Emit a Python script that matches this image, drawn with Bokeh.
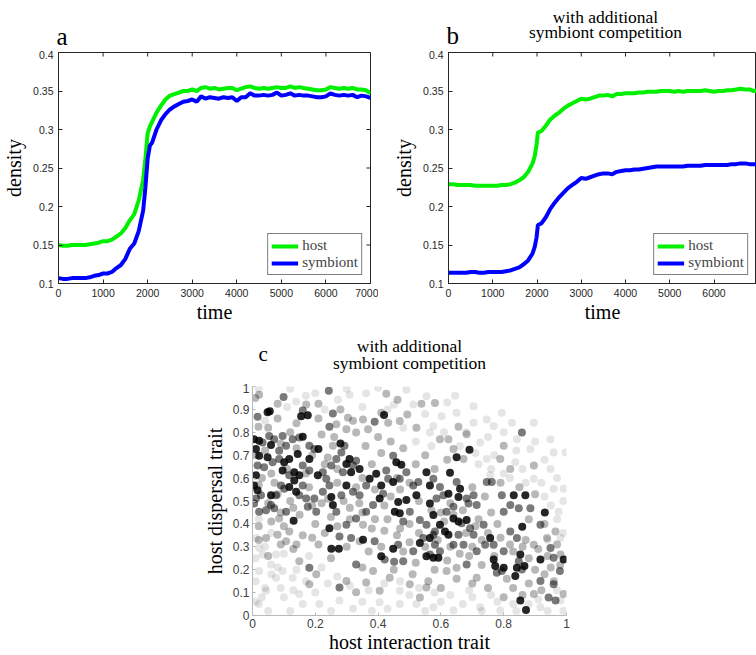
import math
from bokeh.plotting import figure
from bokeh.models import Legend, LegendItem, FixedTicker, Range1d
from bokeh.core.properties import value
from bokeh.layouts import column, row
from bokeh.embed import file_html
from bokeh.resources import INLINE

SERIF = "Liberation Serif"
SANS = "Liberation Sans"
GREEN = "#00f000"
BLUE = "#0000ff"

# ---------------- panel a data ----------------
time_a = [*range(0, 1901, 100), 1950, 2000, 2050, *range(2100, 7001, 100)]
host_a = [.150, .149, .149, .150, .150, .150, .150, .151, .152, .153,
          .155, .155, .157, .161, .165, .172, .182, .190, .208, .235,
          .262, .295, .304,
          .310, .322, .331, .339, .344, .346, .348, .350, .350,
          .352, .350, .354, .355, .353, .354, .352, .353, .354, .354,
          .351, .353, .355, .356, .354, .353, .354, .353, .354, .355,
          .354, .354, .356, .354, .355, .354, .353, .352, .351, .351,
          .352, .355, .354, .353, .354, .353, .354, .352, .352, .351, .347]
symb_a = [.107, .106, .106, .107, .107, .107, .107, .108, .110, .111,
          .113, .113, .115, .120, .124, .132, .145, .152, .168, .195,
          .225, .262, .279,
          .283, .300, .312, .320, .326, .330, .333, .336, .337,
          .339, .336, .343, .340, .342, .341, .340, .342, .341, .342,
          .337, .342, .342, .347, .344, .344, .345, .344, .345, .348,
          .344, .345, .347, .344, .345, .344, .344, .343, .342, .342,
          .343, .347, .345, .344, .345, .344, .345, .342, .344, .343, .341]

# ---------------- panel b data ----------------
time_b = [*range(0, 1901, 100), 1950, 1990, 2020, *range(2100, 7001, 100)]
host_b = [.229, .229, .228, .228, .228, .228, .227, .227, .227, .227,
          .227, .227, .228, .228, .229, .231, .234, .238, .245, .256,
          .266, .280, .296,
          .298, .305, .313, .318, .322, .327, .331, .334, .337,
          .340, .339, .340, .342, .344, .344, .345, .343, .346, .346,
          .347, .347, .347, .348, .348, .349, .349, .349, .350, .350,
          .350, .349, .350, .349, .350, .350, .350, .350, .351, .350,
          .349, .350, .350, .351, .351, .352, .353, .352, .352, .350, .351]
symb_b = [.114, .114, .114, .114, .114, .115, .115, .114, .114, .115,
          .115, .115, .115, .116, .117, .119, .121, .125, .130, .139,
          .148, .160, .176,
          .178, .186, .197, .205, .212, .218, .224, .228, .232,
          .237, .236, .238, .240, .242, .243, .243, .242, .245, .246,
          .247, .247, .248, .248, .249, .250, .251, .252, .252, .252,
          .252, .252, .252, .252, .253, .253, .253, .253, .254, .254,
          .254, .254, .254, .254, .255, .255, .256, .256, .255, .255, .254]

time_ticks = [0, 1000, 2000, 3000, 4000, 5000, 6000, 7000]
time_labels = ["0", "1000", "2000", "3000", "4000", "5000", "6000", "7000"]
dens_ticks = [0.1, 0.15, 0.2, 0.25, 0.3, 0.35, 0.4]
dens_labels = ["0.1", "0.15", "0.2", "0.25", "0.3", "0.35", "0.4"]

# ---------------- panel c data (host traits, by darkness) ----------------
dark_pts = [(.419, .876), (.176, .875), (.155, .870), (.055, .892), (.048, .888),
            (.005, .770), (.021, .763), (.011, .727), (.059, .744), (.160, .781), (.210, .727),
            (.181, .683), (.144, .705), (.117, .683), (.101, .669), (.048, .691), (.021, .698),
            (.096, .633), (.133, .626), (.149, .612), (.133, .590), (.208, .612), (.280, .751),
            (.309, .683), (.299, .662), (.341, .640), (.314, .626), (.011, .612), (.005, .568),
            (.016, .547), (.059, .525), (.117, .561), (.139, .540), (.131, .414), (.251, .518),
            (.256, .482), (.245, .381), (.299, .568), (.373, .597), (.394, .619), (.410, .568),
            (.405, .511), (.251, .291), (.275, .291), (.352, .331), (.410, .259), (.448, .292),
            (.533, .317), (.458, .669), (.474, .658), (.448, .583), (.554, .626), (.565, .568),
            (.522, .525), (.490, .504), (.464, .496), (.453, .453), (.469, .446), (.576, .439),
            (.565, .489), (.629, .623), (.650, .691), (.691, .724), (.661, .554), (.624, .532),
            (.656, .518), (.597, .396), (.613, .367), (.624, .353), (.565, .338), (.554, .259),
            (.576, .252), (.592, .252), (.640, .424), (.656, .410), (.682, .417), (.757, .338),
            (.832, .525), (.869, .525), (.859, .388), (.768, .245), (.773, .216), (.800, .209),
            (.837, .173), (.853, .266), (.866, .216), (.842, .209), (.853, .065), (.871, .024),
            (.931, .450), (.991, .245), (.917, .245)]
mid_pts = [(.099, .954), (.016, .868), (.243, .981), (.389, .846), (.256, .882), (.160, .895),
           (.245, .824), (.858, .799), (.032, .755), (.053, .784), (.069, .770), (.096, .784),
           (.085, .719), (.107, .741), (.128, .770), (.149, .777), (.181, .741), (.197, .727),
           (.085, .683), (.016, .655), (.037, .647), (.064, .669), (.117, .612), (.160, .655),
           (.181, .633), (.224, .626), (.235, .597), (.251, .655), (.267, .683), (.283, .712),
           (.293, .741), (.320, .655), (.330, .676), (.288, .626), (.027, .525), (.011, .511),
           (.005, .489), (.021, .453), (.043, .460), (.059, .482), (.069, .468), (.075, .525),
           (.091, .568), (.101, .554), (.149, .525), (.160, .568), (.171, .511), (.176, .475),
           (.107, .453), (.203, .453), (.197, .511), (.224, .540), (.245, .568), (.267, .453),
           (.283, .525), (.320, .540), (.341, .525), (.362, .568), (.416, .532), (.432, .597),
           (.384, .482), (.362, .453), (.330, .424), (.299, .396), (.277, .345), (.314, .338),
           (.181, .209), (.277, .122), (.330, .223), (.389, .324), (.421, .245), (.464, .309),
           (.451, .235), (.480, .237), (.512, .281), (.544, .338), (.576, .353), (.565, .266),
           (.448, .698), (.490, .626), (.469, .597), (.426, .633), (.512, .568), (.528, .583),
           (.576, .597), (.597, .561), (.480, .410), (.501, .453), (.533, .417), (.554, .396),
           (.586, .511), (.608, .525), (.650, .583), (.682, .511), (.704, .525), (.688, .489),
           (.714, .482), (.640, .475), (.618, .453), (.581, .367), (.581, .309), (.597, .281),
           (.666, .403), (.693, .381), (.656, .353), (.640, .309), (.672, .309), (.682, .223),
           (.714, .281), (.704, .353), (.736, .396), (.741, .309), (.768, .309), (.746, .583),
           (.794, .525), (.800, .453), (.821, .482), (.848, .468), (.885, .468), (.842, .338),
           (.821, .367), (.800, .281), (.778, .187), (.794, .194), (.848, .237), (.858, .201),
           (.917, .151), (.917, .396), (.949, .295), (.959, .252), (.979, .194), (.959, .137),
           (.965, .065), (.943, .079), (.762, .583)]
light_pts = [(.009, .950), (.021, .964), (.019, .824), (.080, .925), (.210, .925), (.171, .921),
             (.426, .968), (.462, .942), (.493, .878), (.538, .925), (.581, .928), (.410, .885),
             (.352, .856), (.304, .863), (.267, .835), (.299, .813), (.330, .799), (.368, .813),
             (.432, .842), (.469, .849), (.522, .820), (.656, .824), (.682, .791), (.800, .741),
             (.256, .741), (.085, .424), (.352, .396), (.341, .324), (.203, .180), (.149, .237),
             (.107, .324), (.117, .367), (.080, .353), (.043, .338), (.181, .137), (.299, .151),
             (.330, .101), (.362, .144), (.384, .194), (.672, .683), (.640, .727), (.624, .770),
             (.618, .194), (.650, .209), (.714, .165), (.896, .094), (.938, .338), (.965, .367),
             (.981, .266), (.991, .094), (.896, .309), (.896, .655), (.821, .640), (.789, .683),
             (.437, .165), (.501, .137), (.554, .122), (.533, .079), (.405, .108), (.597, .770),
             (.03, .60), (.07, .58), (.12, .50), (.18, .56), (.22, .49), (.27, .58), (.31, .47),
             (.35, .60), (.38, .66), (.41, .71), (.36, .74), (.22, .79), (.26, .78), (.12, .80),
             (.05, .82), (.33, .56), (.44, .52), (.47, .55), (.50, .40), (.53, .36), (.47, .38),
             (.43, .42), (.38, .38), (.25, .43), (.20, .40), (.15, .44), (.10, .39), (.06, .41),
             (.02, .39), (.30, .30), (.37, .28), (.41, .30), (.48, .28), (.52, .23), (.58, .20),
             (.62, .24), (.66, .27), (.70, .30), (.73, .33), (.68, .36), (.72, .42), (.76, .45),
             (.78, .40), (.82, .31), (.86, .30), (.88, .25), (.90, .20), (.93, .18), (.95, .21),
             (.88, .14), (.83, .12), (.80, .08), (.75, .12), (.70, .14), (.65, .16), (.60, .12),
             (.56, .15), (.51, .18), (.45, .20), (.35, .21), (.25, .25), (.21, .31), (.16, .35),
             (.13, .29), (.60, .45), (.63, .49), (.70, .56), (.74, .52), (.79, .58), (.85, .56),
             (.90, .53), (.93, .40), (.97, .31), (.88, .42), (.55, .70), (.52, .66), (.58, .64),
             (.62, .68), (.48, .73), (.44, .76), (.40, .78), (.32, .85), (.28, .90), (.21, .86),
             (.14, .84), (.08, .86),
             (.01, .70), (.04, .72), (.09, .75), (.14, .73), (.19, .70), (.24, .69), (.27, .64),
             (.23, .66), (.17, .62), (.11, .64), (.06, .62), (.02, .57), (.08, .53), (.13, .47),
             (.19, .48), (.24, .51), (.29, .50), (.34, .49), (.39, .55), (.42, .48), (.46, .60),
             (.50, .58), (.53, .50), (.57, .46), (.61, .41), (.64, .44), (.67, .46), (.71, .39),
             (.75, .36), (.79, .34), (.83, .28), (.87, .33), (.91, .29), (.94, .26), (.98, .22),
             (.96, .15), (.92, .11), (.86, .09), (.81, .16), (.77, .26), (.73, .22), (.69, .26),
             (.63, .30), (.59, .33), (.55, .30), (.50, .32), (.46, .35), (.42, .37), (.39, .42),
             (.35, .45), (.31, .42), (.27, .39), (.23, .36), (.19, .34), (.14, .31), (.09, .31),
             (.05, .26), (.02, .33), (.05, .49), (.09, .45)]
faint_pts = [(.139, .935), (.272, .942), (.309, .964), (.362, .971), (.512, .921), (.645, .960),
             (.602, .870), (.565, .799), (.725, .755), (.794, .885), (.826, .842), (.959, .712),
             (.997, .712), (.746, .683), (.837, .669), (.021, .295), (.059, .223), (.043, .108),
             (.075, .165), (.149, .094), (.975, .453), (.959, .554), (.896, .597), (.949, .640),
             (.885, .727), (.757, .612), (.011, .338), (.032, .266), (.021, .194), (.075, .266),
             (.096, .194), (.128, .165), (.160, .050), (.213, .050), (.277, .065), (.405, .058),
             (.469, .050), (.522, .050), (.576, .036), (.640, .022), (.725, .036), (.789, .022),
             (.917, .036), (.981, .065), (.469, .108), (.896, .842), (.949, .770), (.842, .770),
             (.768, .827), (.704, .914), (.650, .885), (.554, .957), (.490, .986), (.704, .842),
             (.746, .856), (.576, .827), (.981, .338), (.991, .554),
             (.02, .99), (.12, .99), (.20, .97), (.30, .99), (.40, .995), (.45, .92), (.55, .88),
             (.62, .93), (.68, .80), (.75, .78), (.80, .80), (.84, .72), (.90, .76), (.93, .68),
             (.97, .60), (.99, .50), (.95, .48), (.92, .58), (.86, .64), (.80, .62), (.77, .70),
             (.72, .66), (.02, .05), (.05, .02), (.10, .08), (.12, .02), (.20, .10), (.25, .02),
             (.24, .14), (.32, .03), (.35, .06), (.38, .02), (.43, .03), (.50, .09), (.55, .02),
             (.60, .06), (.67, .05), (.70, .08), (.73, .02), (.78, .06), (.84, .02), (.88, .05),
             (.94, .02), (.99, .02), (.01, .25), (.04, .30), (.06, .18), (.09, .12), (.01, .15),
             (.03, .08), (.14, .20), (.18, .26), (.10, .27), (.06, .36), (.02, .42),
             (.04, .85), (.11, .91), (.17, .96), (.23, .90), (.35, .91), (.43, .90), (.48, .82),
             (.52, .76), (.57, .74), (.61, .80), (.66, .74), (.71, .71), (.76, .64), (.82, .60),
             (.87, .58), (.93, .52), (.97, .42), (.99, .36), (.94, .33), (.97, .11), (.91, .07),
             (.83, .05), (.76, .09), (.69, .11), (.63, .09), (.58, .10), (.53, .12), (.47, .15),
             (.42, .14), (.37, .11), (.31, .13), (.27, .17), (.22, .21), (.17, .15), (.13, .11),
             (.08, .21), (.04, .12), (.01, .06)]
shade_groups = [(faint_pts, 0.1), (light_pts, 0.28), (mid_pts, 0.52), (dark_pts, 0.85)]

trait_ticks = [0, 0.2, 0.4, 0.6, 0.8, 1]
trait_labels = ["0", "0.2", "0.4", "0.6", "0.8", "1"]
disp_ticks = [0, 0.1, 0.2, 0.3, 0.4, 0.5, 0.6, 0.7, 0.8, 0.9, 1]
disp_labels = ["0", "0.1", "0.2", "0.3", "0.4", "0.5", "0.6", "0.7", "0.8", "0.9", "1"]

AX = "#262626"


def style_axis(ax, ticks, labels):
    ax.ticker = FixedTicker(ticks=ticks)
    ax.major_label_overrides = {t: l for t, l in zip(ticks, labels)}
    ax.minor_tick_line_color = None
    ax.major_tick_in = 4
    ax.major_tick_out = 0
    ax.axis_line_color = AX
    ax.major_tick_line_color = AX
    ax.major_label_text_color = AX
    ax.major_label_text_font = SANS
    ax.major_label_text_font_size = "10.5px"
    ax.major_label_standoff = 5
    ax.axis_label_text_font = SERIF
    ax.axis_label_text_font_style = "normal"
    ax.axis_label_text_font_size = "20px"
    ax.axis_label_text_color = "black"


def line_fig(left, right, xmax, with_right_ticks):
    p = figure(width=378, height=275, x_range=Range1d(0, xmax), y_range=Range1d(0.1, 0.4),
               output_backend="svg", toolbar_location=None,
               min_border_left=left, min_border_right=right, min_border_top=2, min_border_bottom=42)
    p.grid.visible = False
    p.outline_line_color = AX
    p.outline_line_width = 1
    style_axis(p.xaxis[0], time_ticks, time_labels)
    style_axis(p.yaxis[0], dens_ticks, dens_labels)
    p.xaxis[0].axis_label = "time"
    p.yaxis[0].axis_label = "density"
    p.xaxis[0].axis_label_standoff = 1
    p.yaxis[0].axis_label_standoff = 5
    # inward ticks on the top (and right) edge of the box
    top_t = [t for t in time_ticks if t <= xmax]
    p.ray(x=top_t, y=[0.4] * len(top_t), length=4, length_units="screen",
          angle=-math.pi / 2, line_color=AX, line_width=1)
    if with_right_ticks:
        p.ray(x=[xmax] * len(dens_ticks), y=dens_ticks, length=4, length_units="screen",
              angle=math.pi, line_color=AX, line_width=1)
    return p


def add_legend(p, r1, r2):
    leg = Legend(items=[LegendItem(label="host", renderers=[r1]),
                        LegendItem(label="symbiont", renderers=[r2])],
                 location="bottom_right", margin=8, padding=3, spacing=0,
                 glyph_width=27, glyph_height=16, label_height=16, label_standoff=4,
                 label_text_font=SERIF, label_text_font_size="15px",
                 border_line_color="black", border_line_width=1,
                 background_fill_alpha=1)
    p.add_layout(leg)


def header(height):
    h = figure(width=756, height=height, x_range=Range1d(0, 756), y_range=Range1d(height, 0),
               output_backend="svg", toolbar_location=None,
               min_border_left=0, min_border_right=0, min_border_top=0, min_border_bottom=0)
    h.axis.visible = False
    h.grid.visible = False
    h.outline_line_color = None
    return h


def put_text(h, x, baseline, text, size, align):
    # text is anchored at its middle; shift so the glyph baseline lands where wanted
    h.text(x=[x], y=[baseline - 0.28 * size], text=[text], text_font=value(SERIF),
           text_font_size=f"{size}px", text_align=align, text_baseline="middle",
           text_color="black")


# ---- headers (panel letters and titles) ----
head_ab = header(50)
put_text(head_ab, 56, 43, "a", 25, "left")
put_text(head_ab, 446, 42.3, "b", 25, "left")
put_text(head_ab, 605, 21.5, "with additional", 17.5, "center")
put_text(head_ab, 605, 36.8, "symbiont competition", 17.5, "center")

head_c = header(58)
put_text(head_c, 258, 34.3, "c", 21, "left")
put_text(head_c, 409, 25.3, "with additional", 17.5, "center")
put_text(head_c, 409, 42.5, "symbiont competition", 17.5, "center")

# ---- panel a ----
fa = line_fig(57, 8, 7000, True)
ra1 = fa.line(time_a, host_a, line_color=GREEN, line_width=4)
ra2 = fa.line(time_a, symb_a, line_color=BLUE, line_width=4)
add_legend(fa, ra1, ra2)

# ---- panel b ----
fb = line_fig(70, 0, 6960, False)
rb1 = fb.line(time_b, host_b, line_color=GREEN, line_width=4)
rb2 = fb.line(time_b, symb_b, line_color=BLUE, line_width=4)
add_legend(fb, rb1, rb2)

# ---- panel c ----
fc = figure(width=756, height=272, x_range=Range1d(0, 1), y_range=Range1d(0, 1),
            output_backend="svg", toolbar_location=None,
            min_border_left=252, min_border_right=190, min_border_top=3, min_border_bottom=36)
fc.grid.visible = False
fc.outline_line_color = None
for pts, alpha in shade_groups:
    fc.scatter([q[0] for q in pts], [q[1] for q in pts], size=8, marker="circle",
               fill_color="black", fill_alpha=alpha, line_color=None)
for ax, tk, lb, name in [(fc.xaxis[0], trait_ticks, trait_labels, "host interaction trait"),
                         (fc.yaxis[0], disp_ticks, disp_labels, "host dispersal trait")]:
    style_axis(ax, tk, lb)
    ax.axis_label = name
    ax.axis_line_color = "#b8b8b8"
    ax.major_tick_line_color = "#b8b8b8"
    ax.major_tick_in = 3
    ax.major_label_text_color = "#404040"
    ax.major_label_text_font_size = "12px"
    ax.major_label_standoff = 3
fc.xaxis[0].axis_label_standoff = 0
fc.yaxis[0].axis_label_standoff = 4

# each block wrapped in its own row so that plot frames are not aligned across blocks
layout = column(row(head_ab), row(fa, fb), row(head_c), row(fc))
open("out.html", "w").write(file_html(layout, INLINE))
